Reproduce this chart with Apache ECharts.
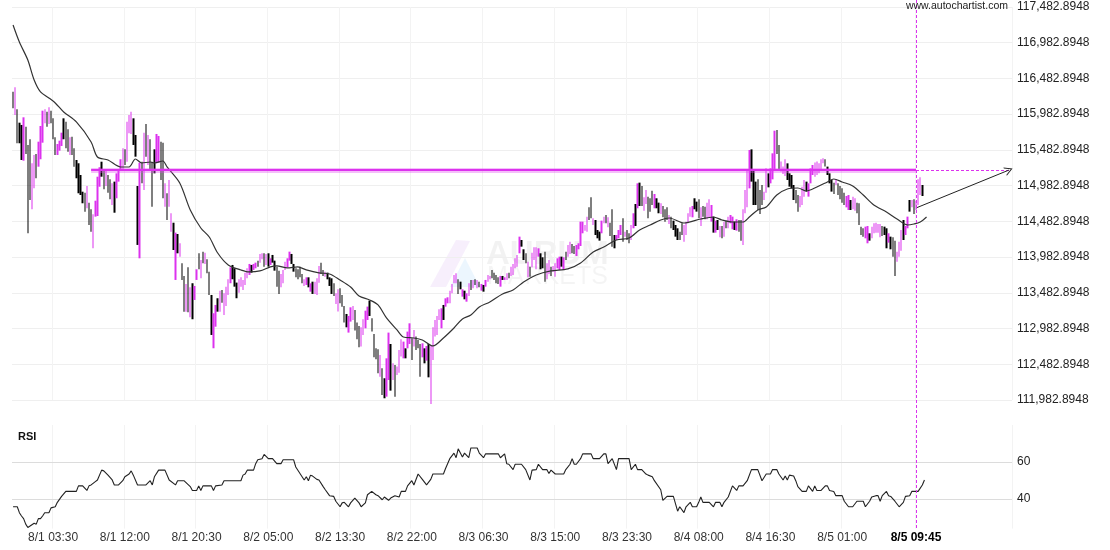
<!DOCTYPE html>
<html><head><meta charset="utf-8">
<script src="https://cdn.jsdelivr.net/npm/echarts@6/dist/echarts.min.js"></script>
<style>html,body{margin:0;padding:0;background:#fff}#c{width:1110px;height:550px}</style>
</head><body><div id="c"></div>
<script>
// ---------- data ----------
const firstSlot = { year: 2025, month: 7, day: 31, hour: 22, minute: 45 };
const slotMinutes = 15;
const slotCount = 474;
const xTickLabels = ['8/1 03:30','8/1 12:00','8/1 20:30','8/2 05:00','8/2 13:30','8/2 22:00','8/3 06:30','8/3 15:00','8/3 23:30','8/4 08:00','8/4 16:30','8/5 01:00','8/5 09:45'];
const boldTick = '8/5 09:45';
const yTickLabels = ['111,982.8948','112,482.8948','112,982.8948','113,482.8948','113,982.8948','114,482.8948','114,982.8948','115,482.8948','115,982.8948','116,482.8948','116,982.8948','117,482.8948'];
const yMin = 111982.89, yMax = 117482.89, yStep = 500;
const rsiTicks = [40, 60];

const highs = [
116298,116359,116051,115864,115832,115939,115808,115552,115632,115296,
115412,115426,115598,115818,116032,116051,116018,116079,116032,115925,
115660,115566,115612,115724,115925,115878,115771,115660,115668,115505,
115342,115296,115132,114898,114884,114978,114744,114652,114582,114772,
115108,115240,115318,115212,115212,115132,115072,115016,115039,115155,
115212,115352,115505,115491,115878,115972,116018,115925,115692,114978,
115304,115318,115724,115846,115692,115632,115318,115491,115706,115678,
115598,115584,115016,114876,115062,114596,114464,114325,114306,114176,
113896,113719,113607,113840,113561,113617,113579,113812,114036,113943,
114059,114045,113952,113779,113453,113197,113313,113407,113513,113523,
113477,113569,113673,113840,113873,113826,113626,
113672,113700,113663,113765,113826,113887,113873,113887,
113905,113933,114027,114036,114036,114027,114036,113966,114013,113933,113849,113793,113747,113803,113919,113966,114059,
114027,113887,113826,113812,113849,113747,113672,113700,113700,113616,113639,113639,113686,113859,113905,113803,113779,
113765,113700,113686,113616,113476,113532,113546,113453,113299,113187,113159,113280,113299,113243,113066,113019,113000,113112,113233,113290,
113373,113126,112907,112706,112692,112613,112426,112287,112566,112926,112767,112496,112473,112450,112683,112832,112800,112706,112940,113056,
112846,112963,112870,112823,112767,112776,112706,112739,112767,112753,113000,113103,113159,113252,113266,113313,113406,113420,113513,
113607,113733,113756,113672,113639,113532,113513,113476,
113616,113663,113663,113672,113663,113639,113607,113593,113663,113733,
113719,113803,113765,113733,113700,113719,113719,113700,
113756,113765,113849,113887,113966,114012,114269,114222,114092,114036,113919,113849,114045,114120,114120,114106,114036,113980,114059,113896,113942,113849,
113859,113896,113966,113989,113989,113980,114059,114152,114199,114166,114138,114152,114176,114479,114479,114432,114549,114680,114819,114526,114502,114362,114339,114493,
114549,114572,114540,114465,114652,114292,114292,114362,114432,114526,114339,114362,114316,114432,114596,114726,115015,115025,114978,114819,114922,114829,114806,114913,114866,
114806,114745,114736,114698,114652,114680,114572,114549,114493,114432,114386,114339,114456,114432,114479,
114596,114680,114698,114806,114759,
114791,114680,114698,114689,114745,114791,114712,114549,114493,
114502,114418,114418,114479,114493,114549,114572,114549,114479,114512,114502,114502,114651,114922,115202,115482,115491,115202,115039,115071,114922,114992,114899,115225,115155,115225,115435,115752,115762,115552,115319,
115249,115351,115295,115155,115132,114992,114922,114852,114838,114969,115062,115039,115015,115225,115272,115305,
115319,115295,115351,115365,
115351,115249,115155,115062,115025,115071,115015,114978,114945,114885,114838,114852,114782,114829,114805,114745,114735,114409,114386,114409,114418,114316,114409,114456,114465,
114446,114446,114418,114409,
114386,114316,114269,114260,114213,114059,114199,114362,114502,114418,114549,114782,114782,114791,114773,115071,115099,114992
];
const lows = [
116065,115972,115576,115576,115342,115332,115426,114316,114782,114652,
114946,115086,115248,115352,115584,115855,115808,115846,115855,115632,
115412,115412,115472,115538,115632,115505,115458,115412,115412,115248,
115086,114876,114852,114736,114618,114666,114432,114339,114106,114549,
114558,114968,115108,114932,114978,114884,114792,114712,114604,114806,
115039,115202,115212,115272,115318,115716,115706,115552,115388,114153,
113966,115016,114922,115388,115272,115202,114688,115155,115296,115304,
115062,114806,114688,114502,114688,114339,114082,113663,114036,113989,
113663,113219,113219,113211,113141,113113,113383,113663,113812,113686,
113896,113887,113756,113453,112893,112707,113009,113219,113219,113345,
113173,113299,113453,113617,113673,113569,113407,
113485,113569,113523,113593,113686,113733,113765,113803,
113826,113849,113905,113952,113849,113873,113849,113873,113905,113793,113569,113467,113560,113616,113803,113840,113933,
113887,113779,113700,113672,113700,113616,113579,113593,113560,113499,113467,113467,113453,113625,113747,113719,113709,
113672,113579,113467,113439,113327,113220,113336,113289,113066,113000,112926,113080,113103,112954,112832,112720,112730,112893,112986,113103,
113159,112940,112580,112552,112357,112310,112053,112007,112030,112263,112114,112263,112030,112333,112366,112590,112566,112566,112706,112767,
112543,112730,112683,112706,112310,112580,112496,112534,112300,111927,112543,112870,112893,113103,112986,113103,113289,113336,113336,
113476,113616,113616,113467,113532,113429,113392,113359,
113439,113523,113546,113593,113546,113560,113513,113499,113569,113639,
113672,113686,113663,113616,113607,113569,113663,113663,
113663,113686,113719,113733,113826,113849,114036,114129,113942,113896,113700,113709,113840,113942,113812,113989,113812,113826,113639,113672,113747,113719,
113779,113709,113826,113803,113849,113803,113942,113989,114027,114036,114027,113998,114092,114138,114316,114353,114339,114502,114526,114432,114292,114246,114213,114316,
114456,114456,114400,114278,114129,114106,114222,114246,114292,114199,114269,114222,114176,114222,114386,114418,114666,114698,114698,114633,114726,114526,114619,114712,114666,
114666,114596,114586,114540,114479,114502,114446,114386,114362,114269,114222,114222,114292,114199,114292,
114456,114549,114540,114652,114619,
114526,114418,114549,114512,114512,114540,114479,114325,114325,
114362,114260,114246,114269,114386,114386,114456,114372,114362,114353,114339,114213,114152,114596,114679,114945,115039,114712,114712,114642,114586,114712,114782,114885,114959,115015,115071,115211,115426,115211,115179,
115146,115118,115062,114969,114945,114782,114735,114619,114679,114712,114829,114899,114829,115015,115132,115109,
115132,115155,115193,115295,
115249,115132,115015,114899,114866,114992,114852,114791,114745,114712,114679,114642,114642,114651,114633,114596,114432,114292,114269,114246,114176,114213,114246,114316,114325,
114325,114260,114278,114292,
114106,114185,114092,113989,113718,113919,113989,114073,114222,114292,114386,114619,114679,114586,114642,114712,114852,114838
];
// 1 = rising bar (magenta), 0 = falling bar (black)
const ups = [
0,1,0,0,0,1,0,0,0,1, 1,0,1,1,1,1,0,1,0,0, 0,1,1,1,0,0,0,1,0,0, 0,0,0,0,0,1,0,0,1,1,
1,1,0,0,1,0,0,1,0,1, 1,1,1,0,1,1,1,0,0,0, 1,0,1,0,1,0,0,0,1,1, 0,0,1,0,1,1,0,1,0,1,
0,0,1,0,1,0,1,1,0,1, 0,1,0,0,0,1,1,0,1,0, 1,1,1,1,0,0,0,
1,1,1,1,1,1,0,1,
1,0,1,1,0,1,0,1,0,0,0,0,1,1,1,1,1,
0,0,0,0,0,0,1,1,0,1,0,1,1,1,0,0,1,
0,0,0,0,1,1,0,0,0,0,1,1,1,0,0,0,1,1,1,1,
0,0,0,0,0,1,0,0,1,1,0,1,0,1,1,1,1,0,1,1,
0,1,0,0,0,1,0,1,0,1,1,1,1,1,1,0,1,1,1,
1,1,1,0,0,1,0,1,
1,0,1,0,1,0,1,0,1,1,
1,0,0,0,0,1,0,1,
1,0,1,1,1,1,1,0,0,0,1,0,1,1,1,1,0,0,0,1,1,0,
1,1,1,1,0,1,0,1,1,0,0,1,1,1,1,1,1,0,0,1,0,0,0,1,
1,0,1,0,0,0,1,1,1,0,1,0,0,1,1,0,1,0,0,1,1,0,0,0,1,
0,0,1,0,0,0,1,0,0,0,0,0,0,1,1,
1,1,1,0,0,
0,1,0,0,1,1,1,0,1,
0,1,0,1,0,1,1,1,0,1,0,0,1,1,1,1,0,0,0,0,0,0,1,1,0,1,1,1,0,0,1,
1,1,0,0,0,0,0,0,1,1,1,0,1,1,1,1,
1,1,1,1,
0,0,0,0,0,1,0,0,0,0,1,1,0,1,1,0,0,0,0,1,1,0,1,1,1,
1,1,0,0,
0,1,0,0,0,1,1,1,0,1,1,0,1,0,1,1,1,0
];

const maSlots = [0,3,7,10,13,17,20,24,30,37,40,45,51,55,58,61,65,67,71,73,79,84,89,93,97,102,108,112,117,122,125,130,135,139,145,150,155,160,164,169,173,177,182,185,190,194,199,204,209,213,217,221,226,232,237,242,248,255,263,269,275,280,286,292,297,302,307,311,318,326,332,336,341,346,349,353,357,362,367,372,376,381,386,389,393,398,403,408,414,419,424,427,430,433];
const maValues = [117231,116993,116741,116461,116294,116210,116140,116014,115874,115594,115384,115342,115244,115244,115356,115300,115314,115300,115328,115244,115020,114642,114390,114264,114040,113873,113803,113775,113789,113845,113859,113831,113845,113803,113761,113747,113663,113565,113439,113383,113313,113131,112963,112865,112851,112823,112739,112851,112991,113117,113173,113285,113355,113467,113523,113635,113733,113789,113817,113901,114054,114124,114222,114250,114362,114432,114502,114530,114460,114516,114544,114502,114474,114474,114544,114642,114684,114852,114936,114950,114908,114964,115034,115076,115034,114978,114852,114712,114614,114516,114432,114446,114474,114544];

const rsiSlots = [0,2,3,4,5,6,7,10,11,12,13,14,15,17,18,20,21,23,25,30,31,33,35,36,37,39,40,42,43,45,47,48,50,52,53,55,56,57,59,63,65,66,67,69,72,74,77,78,81,84,85,87,88,89,90,94,95,96,99,100,108,109,110,111,114,115,116,118,119,121,123,125,127,128,133,134,136,138,139,140,141,142,144,145,147,148,150,152,153,155,156,157,159,160,162,164,165,167,168,170,172,173,175,176,178,179,181,183,
184,186,187,189,190,192,194,196,198,199,204,205,207,209,210,211,213,214,216,217,220,221,223,224,230,231,233,234,235,237,238,241,243,245,246,248,249,251,253,254,255,257,261,262,264,265,266,267,269,270,274,275,278,280,281,282,284,286,287,292,293,295,296,298,300,301,303,304,307,308,310,313,315,316,318,319,321,322,324,325,326,327,330,332,333,335,336,337,339,341,343,344,346,348,350,353,355,357,359,360,362,363,
365,366,367,368,370,371,372,374,376,377,379,380,381,383,385,386,387,389,390,393,394,396,398,400,403,404,406,407,409,410,411,412,414,415,416,418,420,422,423,425,426,429,431,432];
const rsiValues = [35.8,35.8,32.6,30.8,29.4,26.4,24.6,26.9,26.4,29.4,29.4,30.8,32.6,32.6,35.2,35.8,38.2,41.4,44.1,44.1,47.1,47.1,44.6,47.1,47.6,49.4,50.3,55.6,55.2,52.9,50.3,47.6,47.6,49.9,52.0,53.5,55.2,52.9,47.6,47.6,49.9,47.6,52.0,55.6,55.6,50.3,47.6,49.9,49.9,46.7,44.6,44.6,47.1,44.6,47.1,47.1,44.6,47.1,47.6,49.9,49.9,52.9,53.5,55.6,55.6,59.1,61.2,61.8,64.1,61.8,61.8,59.1,59.1,61.2,61.2,57.3,53.8,50.3,52.0,49.9,52.9,52.4,50.6,50.3,46.7,45.0,41.8,41.4,38.8,35.8,37.9,38.2,35.8,37.9,40.5,37.9,35.8,37.9,42.3,44.1,42.3,41.8,39.6,41.1,39.3,40.5,41.8,41.1,
44.1,44.1,47.1,49.9,47.6,53.5,50.6,47.6,50.6,53.5,53.5,56.5,61.8,64.8,62.3,67.1,62.7,64.8,62.3,67.6,67.6,64.8,62.3,64.4,64.4,62.3,64.4,59.1,58.8,55.9,58.8,58.8,55.9,50.3,55.6,55.9,58.8,55.9,55.9,53.8,55.6,53.5,53.5,55.9,58.8,61.8,58.8,58.8,61.8,64.4,64.4,61.8,61.8,64.4,64.4,59.1,61.8,55.9,61.8,61.8,55.9,58.8,55.9,55.9,53.5,52.9,52.0,49.9,45.0,39.3,41.4,41.4,33.4,35.8,32.6,35.8,38.2,35.8,35.8,38.2,41.1,38.2,38.2,35.8,38.2,38.2,35.8,38.2,41.1,47.1,44.6,47.1,47.1,49.9,55.9,55.9,49.9,53.5,53.5,55.9,55.9,53.5,
50.3,52.4,50.3,52.9,52.4,49.9,46.7,44.1,44.1,47.1,44.1,47.1,44.6,44.6,47.1,47.1,44.6,44.1,41.8,41.8,38.8,35.8,35.8,38.8,38.8,35.8,38.8,41.1,41.8,41.8,38.8,41.8,44.1,41.8,41.4,38.8,35.8,38.2,41.4,41.8,44.1,44.1,47.6,50.3];

const levelPrice = 115200;      // horizontal resistance level
const levelStartSlot = 37;
const signalSlot = 428;         // 8/5 09:45
const arrowStartPrice = 114670;
const arrowEndSlot = 472;

// ---------- build ----------
const categories = [];
for (let i = 0; i < slotCount; i++) {
  const d = new Date(Date.UTC(firstSlot.year, firstSlot.month - 1, firstSlot.day, firstSlot.hour, firstSlot.minute + i * slotMinutes));
  categories.push((d.getUTCMonth() + 1) + '/' + d.getUTCDate() + ' ' +
    String(d.getUTCHours()).padStart(2, '0') + ':' + String(d.getUTCMinutes()).padStart(2, '0'));
}
const tickSet = new Set(xTickLabels);
const showTick = (idx, val) => tickSet.has(val);

const candleData = highs.map((h, i) => ups[i] ? [lows[i], h, lows[i], h] : [h, lows[i], lows[i], h]);
const maData = maSlots.map((s, i) => [s, maValues[i]]);
const rsiData = rsiSlots.map((s, i) => [s, rsiValues[i]]);

const MAG = '#dc32ee';
const FONT = 'Liberation Sans, Arial, sans-serif';
const LEFT = 12, RIGHT = 98;

const chart = echarts.init(document.getElementById('c'), null, { renderer: 'canvas' });
chart.setOption({
  animation: false,
  backgroundColor: '#fff',
  textStyle: { fontFamily: FONT },
  grid: [
    { left: LEFT, right: RIGHT, top: 7, height: 393 },
    { left: LEFT, right: RIGHT, top: 425, height: 103.6 },
    { left: LEFT, right: RIGHT, top: 0, height: 528 }
  ],
  xAxis: [
    { type: 'category', gridIndex: 0, data: categories, boundaryGap: true,
      axisLine: { show: false }, axisTick: { show: false }, axisLabel: { show: false },
      splitLine: { show: true, interval: showTick, lineStyle: { color: '#f3f3f3', width: 1 } } },
    { type: 'category', gridIndex: 1, data: categories, boundaryGap: true,
      axisLine: { show: false }, axisTick: { show: false },
      axisLabel: { show: true, interval: showTick, margin: 3, color: '#333', fontSize: 12, fontFamily: FONT,
        formatter: v => v === boldTick ? '{b|' + v + '}' : v,
        rich: { b: { fontWeight: 'bold', color: '#000', fontSize: 12, fontFamily: FONT } } },
      splitLine: { show: true, interval: showTick, lineStyle: { color: '#f3f3f3', width: 1 } } },
    { type: 'category', gridIndex: 2, data: categories, boundaryGap: true, show: false }
  ],
  yAxis: [
    { type: 'value', gridIndex: 0, position: 'right', min: yMin, max: yMax, interval: yStep,
      axisLine: { show: false }, axisTick: { show: false },
      axisLabel: { margin: 5, color: '#222', fontSize: 12, fontFamily: FONT,
        formatter: v => yTickLabels[Math.round((v - yMin) / yStep)] || '' },
      splitLine: { show: true, lineStyle: { color: '#efefef', width: 1 } } },
    { type: 'value', gridIndex: 1, position: 'right', min: 24, max: 80, interval: 4,
      axisLine: { show: false }, axisTick: { show: false },
      axisLabel: { margin: 5, color: '#222', fontSize: 12, fontFamily: FONT,
        formatter: v => rsiTicks.some(t => Math.abs(t - v) < 0.01) ? String(Math.round(v)) : '' },
      splitLine: { show: false } },
    { type: 'value', gridIndex: 2, min: 0, max: 1, show: false }
  ],
  graphic: [
    { type: 'text', left: 18, top: 431, z: 10, style: { text: 'RSI', font: 'bold 11px ' + FONT, fill: '#111' } },
    { type: 'text', right: 102, top: 1, z: 10, style: { text: 'www.autochartist.com', font: '10.5px ' + FONT, fill: '#222' } },
    { type: 'polygon', z: 0, silent: true, shape: { points: [[430, 287], [446, 287], [470, 241], [456, 240]] }, style: { fill: 'rgba(215,175,240,0.2)' } },
    { type: 'polygon', z: 0, silent: true, shape: { points: [[450, 287], [465, 258], [480, 287]] }, style: { fill: 'rgba(170,215,250,0.22)' } },
    { type: 'text', left: 486, top: 238, z: 0, silent: true, style: { text: 'AURUM', font: 'bold 33px ' + FONT, fill: 'rgba(0,0,0,0.05)' } },
    { type: 'text', left: 487, top: 265, z: 0, silent: true, style: { text: 'MARKETS', font: '25px ' + FONT, fill: 'rgba(0,0,0,0.045)' } }
  ],
  series: [
    { type: 'candlestick', xAxisIndex: 0, yAxisIndex: 0, data: candleData, barWidth: 1.9, clip: false,
      itemStyle: { color: MAG, color0: '#000', borderColor: MAG, borderColor0: '#000', borderWidth: 0, opacity: 1 },
      emphasis: { disabled: true } },
    { type: 'line', xAxisIndex: 0, yAxisIndex: 0, data: maData, showSymbol: false, smooth: 0.3,
      lineStyle: { color: '#333', width: 1.2 }, emphasis: { disabled: true }, silent: true, z: 3,
      markLine: { silent: true, symbol: ['none', 'none'], label: { show: false }, animation: false,
        data: [
          [{ coord: [categories[levelStartSlot], levelPrice], lineStyle: { color: 'rgba(226,70,240,0.35)', width: 5, type: 'solid' } },
           { coord: [categories[signalSlot], levelPrice], lineStyle: { color: 'rgba(226,70,240,0.35)', width: 5, type: 'solid' } }],
          [{ coord: [categories[levelStartSlot], levelPrice], lineStyle: { color: MAG, width: 2, type: 'solid' } },
           { coord: [categories[signalSlot], levelPrice], lineStyle: { color: MAG, width: 2, type: 'solid' } }],
          [{ coord: [categories[signalSlot], levelPrice], lineStyle: { color: MAG, width: 1, type: [3, 2] } },
           { coord: [categories[slotCount - 1], levelPrice], lineStyle: { color: MAG, width: 1, type: [3, 2] } }],
          [{ coord: [categories[signalSlot], arrowStartPrice], symbol: 'none', lineStyle: { color: '#222', width: 1, type: 'solid' } },
           { coord: [categories[arrowEndSlot], levelPrice], symbol: 'path://M5,0 L10,10 L8.8,10 L5,2.4 L1.2,10 L0,10 Z', symbolSize: [9, 8],
             lineStyle: { color: '#222', width: 1, type: 'solid' } }]
        ] } },
    { type: 'line', xAxisIndex: 1, yAxisIndex: 1, data: rsiData, showSymbol: false,
      lineStyle: { color: '#222', width: 1.1 }, emphasis: { disabled: true }, silent: true, z: 3,
      markLine: { silent: true, symbol: ['none', 'none'], label: { show: false }, animation: false, z: 1,
        lineStyle: { color: '#dcdcdc', width: 1, type: 'solid' },
        data: rsiTicks.map(t => ({ yAxis: t })) } },
    { type: 'line', xAxisIndex: 2, yAxisIndex: 2, data: [], silent: true,
      markLine: { silent: true, symbol: ['none', 'none'], label: { show: false }, animation: false,
        lineStyle: { color: MAG, width: 1, type: [3, 2] },
        data: [{ xAxis: categories[signalSlot] }] } }
  ]
});
</script>
</body></html>
